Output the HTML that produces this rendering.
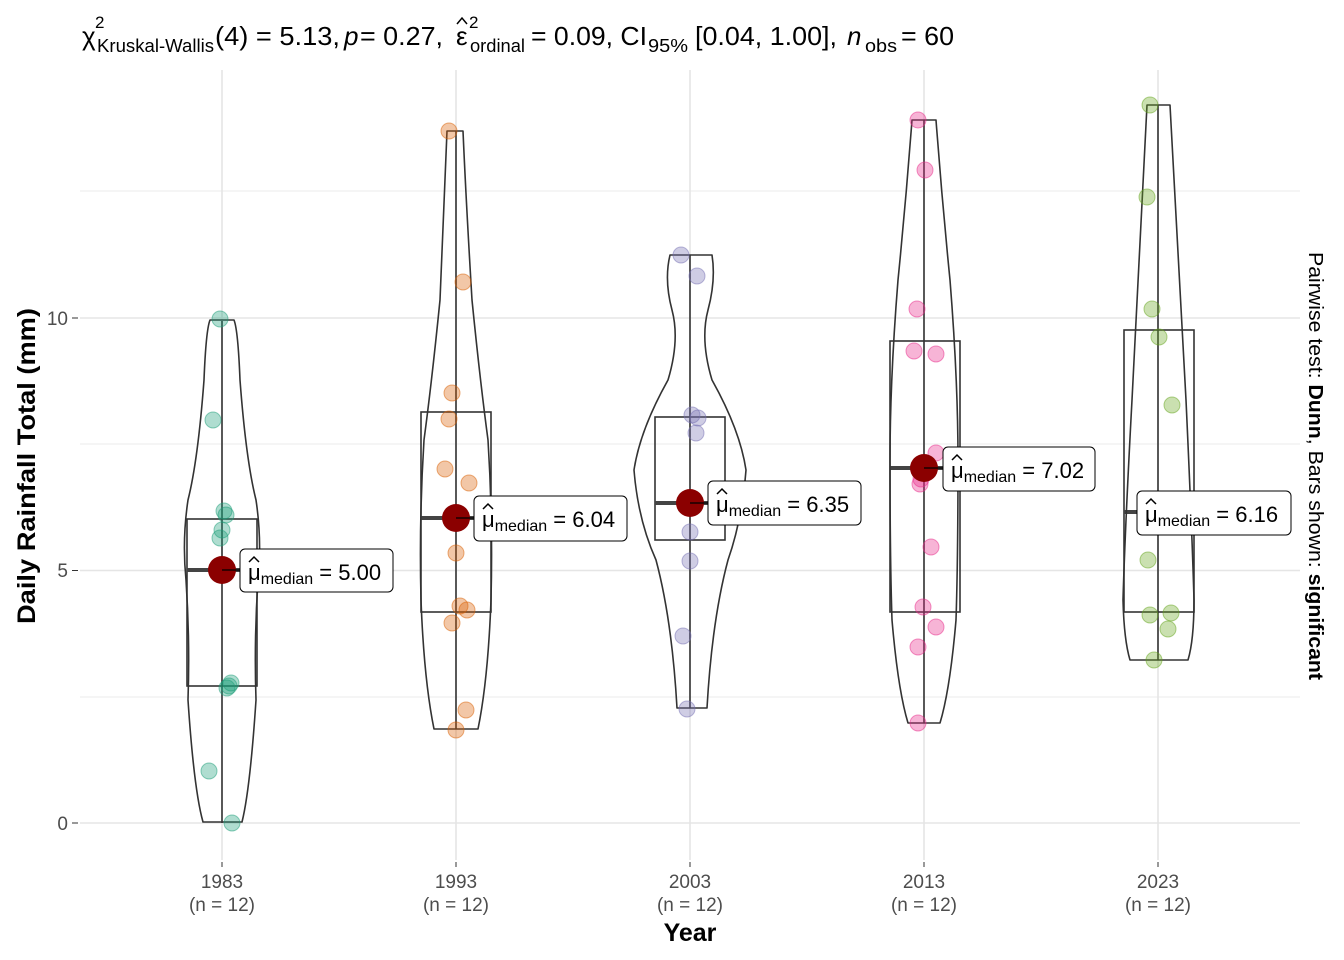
<!DOCTYPE html>
<html><head><meta charset="utf-8"><style>body{margin:0;background:#fff}svg{display:block}</style></head><body>
<svg width="1344" height="960" xmlns="http://www.w3.org/2000/svg" font-family="Liberation Sans, Arial, sans-serif">
<rect width="1344" height="960" fill="#fff"/>
<g stroke="#ebebeb" stroke-width="1">
<line x1="80" x2="1300" y1="697" y2="697"/><line x1="80" x2="1300" y1="444" y2="444"/><line x1="80" x2="1300" y1="191" y2="191"/>
</g>
<g stroke="#e5e5e5" stroke-width="1.6">
<line x1="80" x2="1300" y1="823" y2="823"/><line x1="80" x2="1300" y1="570.5" y2="570.5"/><line x1="80" x2="1300" y1="318" y2="318"/>
<line x1="222" x2="222" y1="70" y2="860"/><line x1="456" x2="456" y1="70" y2="860"/><line x1="690" x2="690" y1="70" y2="860"/><line x1="924" x2="924" y1="70" y2="860"/><line x1="1158" x2="1158" y1="70" y2="860"/>
</g>
<g font-size="19" fill="#4d4d4d" text-anchor="end">
<text x="68" y="830">0</text><text x="68" y="577">5</text><text x="68" y="325">10</text>
</g>
<g stroke="#333" stroke-width="1"><line x1="72" x2="78" y1="823" y2="823"/><line x1="72" x2="78" y1="570.5" y2="570.5"/><line x1="72" x2="78" y1="318" y2="318"/></g>
<g fill="none" stroke="#333" stroke-width="1.6">
<line x1="222" x2="222" y1="321" y2="823"/><rect x="187" y="519" width="70" height="167"/>
<line x1="456" x2="456" y1="131" y2="729"/><rect x="421" y="412" width="70" height="200"/>
<line x1="690" x2="690" y1="255" y2="708"/><rect x="655" y="417" width="70" height="123"/>
<line x1="924" x2="924" y1="120" y2="723"/><rect x="890" y="341" width="70" height="271"/>
<line x1="1158" x2="1158" y1="105" y2="660"/><rect x="1124" y="330" width="70" height="282"/>
</g>
<g stroke="#444" stroke-width="4">
<line x1="187" x2="257" y1="570" y2="570"/><line x1="421" x2="491" y1="518" y2="518"/><line x1="655" x2="725" y1="503" y2="503"/><line x1="890" x2="960" y1="468" y2="468"/><line x1="1124" x2="1194" y1="512" y2="512"/>
</g>
<g fill="none" stroke="#333" stroke-width="1.6" stroke-linejoin="round">
<path d="M210,320 L234,320 Q238,330 240,380 Q246,460 256,500 Q262,540 258,580 Q254,640 256,700 Q250,790 242,822 L203,822 Q194,790 188,700 Q190,640 186,580 Q182,540 188,500 Q198,460 204,380 Q206,330 210,320 Z"/>
<path d="M447,131 L463,131 Q466,200 472,300 Q480,380 488,440 Q493,520 491,600 Q488,680 478,729 L434,729 Q424,680 421,600 Q419,520 424,440 Q432,380 440,300 Q444,200 447,131 Z"/>
<path d="M670,255 L712,255 Q716,280 708,310 Q700,340 712,380 Q740,430 746,470 Q742,520 728,560 Q712,620 707,708 L677,708 Q672,620 656,560 Q638,520 634,470 Q640,430 668,380 Q680,340 672,310 Q664,280 670,255 Z"/>
<path d="M912,120 L936,120 Q942,200 950,280 Q958,380 958,460 Q958,560 956,620 Q950,690 940,723 L908,723 Q898,690 892,620 Q890,560 890,460 Q890,380 898,280 Q906,200 912,120 Z"/>
<path d="M1147,105 L1170,105 Q1178,250 1186,400 Q1192,530 1194,600 Q1194,640 1188,660 L1130,660 Q1124,640 1123,600 Q1125,530 1132,400 Q1140,250 1147,105 Z"/>
</g>
<g fill-opacity="0.35" stroke-opacity="0.5" stroke-width="1">
<g fill="#1b9e77" stroke="#1b9e77">
<circle cx="220" cy="319" r="8"/><circle cx="213" cy="420" r="8"/><circle cx="224" cy="511" r="8"/><circle cx="226" cy="515" r="8"/><circle cx="222" cy="530" r="8"/><circle cx="220" cy="538" r="8"/><circle cx="231" cy="683" r="8"/><circle cx="229" cy="686" r="8"/><circle cx="227" cy="688" r="8"/><circle cx="209" cy="771" r="8"/><circle cx="232" cy="823" r="8"/>
</g>
<g fill="#d95f02" stroke="#d95f02">
<circle cx="449" cy="131" r="8"/><circle cx="463" cy="282" r="8"/><circle cx="452" cy="393" r="8"/><circle cx="449" cy="419" r="8"/><circle cx="445" cy="469" r="8"/><circle cx="469" cy="483" r="8"/><circle cx="456" cy="553" r="8"/><circle cx="460" cy="606" r="8"/><circle cx="467" cy="610" r="8"/><circle cx="452" cy="623" r="8"/><circle cx="466" cy="710" r="8"/><circle cx="456" cy="730" r="8"/>
</g>
<g fill="#7570b3" stroke="#7570b3">
<circle cx="681" cy="255" r="8"/><circle cx="697" cy="276" r="8"/><circle cx="692" cy="415" r="8"/><circle cx="698" cy="418" r="8"/><circle cx="696" cy="433" r="8"/><circle cx="690" cy="532" r="8"/><circle cx="690" cy="561" r="8"/><circle cx="683" cy="636" r="8"/><circle cx="687" cy="709" r="8"/>
</g>
<g fill="#e7298a" stroke="#e7298a">
<circle cx="918" cy="120" r="8"/><circle cx="925" cy="170" r="8"/><circle cx="917" cy="309" r="8"/><circle cx="914" cy="351" r="8"/><circle cx="936" cy="354" r="8"/><circle cx="936" cy="453" r="8"/><circle cx="921" cy="479" r="8"/><circle cx="920" cy="484" r="8"/><circle cx="931" cy="547" r="8"/><circle cx="923" cy="607" r="8"/><circle cx="936" cy="627" r="8"/><circle cx="918" cy="647" r="8"/><circle cx="918" cy="723" r="8"/>
</g>
<g fill="#66a61e" stroke="#66a61e">
<circle cx="1150" cy="105" r="8"/><circle cx="1147" cy="197" r="8"/><circle cx="1152" cy="309" r="8"/><circle cx="1159" cy="337" r="8"/><circle cx="1172" cy="405" r="8"/><circle cx="1148" cy="560" r="8"/><circle cx="1150" cy="615" r="8"/><circle cx="1171" cy="613" r="8"/><circle cx="1168" cy="629" r="8"/><circle cx="1154" cy="660" r="8"/>
</g>
</g>
<g fill="#8b0000">
<circle cx="222" cy="570" r="14"/><circle cx="456" cy="518" r="14"/><circle cx="690" cy="503" r="14"/><circle cx="924" cy="468" r="14"/>
</g>
<g stroke="#000" stroke-width="1.2"><line x1="222" x2="240" y1="570" y2="570"/><line x1="456" x2="474" y1="518" y2="518"/><line x1="690" x2="708" y1="503" y2="503"/><line x1="924" x2="943" y1="468" y2="468"/></g>
<g font-size="22" fill="#000">
<g transform="translate(240,549)"><rect width="153" height="43" rx="5" fill="#fff" stroke="#000" stroke-width="1"/><text x="8" y="31">μ<tspan font-size="16" dy="4">median</tspan><tspan dy="-4"> = 5.00</tspan></text><path d="M9,13 L14,8 L19,13" fill="none" stroke="#000" stroke-width="1.5"/></g>
<g transform="translate(474,496)"><rect width="153" height="45" rx="5" fill="#fff" stroke="#000" stroke-width="1"/><text x="8" y="31">μ<tspan font-size="16" dy="4">median</tspan><tspan dy="-4"> = 6.04</tspan></text><path d="M9,13 L14,8 L19,13" fill="none" stroke="#000" stroke-width="1.5"/></g>
<g transform="translate(708,481)"><rect width="153" height="44" rx="5" fill="#fff" stroke="#000" stroke-width="1"/><text x="8" y="31">μ<tspan font-size="16" dy="4">median</tspan><tspan dy="-4"> = 6.35</tspan></text><path d="M9,13 L14,8 L19,13" fill="none" stroke="#000" stroke-width="1.5"/></g>
<g transform="translate(943,447)"><rect width="152" height="44" rx="5" fill="#fff" stroke="#000" stroke-width="1"/><text x="8" y="31">μ<tspan font-size="16" dy="4">median</tspan><tspan dy="-4"> = 7.02</tspan></text><path d="M9,13 L14,8 L19,13" fill="none" stroke="#000" stroke-width="1.5"/></g>
<g transform="translate(1137,491)"><rect width="154" height="44" rx="5" fill="#fff" stroke="#000" stroke-width="1"/><text x="8" y="31">μ<tspan font-size="16" dy="4">median</tspan><tspan dy="-4"> = 6.16</tspan></text><path d="M9,13 L14,8 L19,13" fill="none" stroke="#000" stroke-width="1.5"/></g>
</g>
<g stroke="#333"><line x1="222" x2="222" y1="862" y2="867"/><line x1="456" x2="456" y1="862" y2="867"/><line x1="690" x2="690" y1="862" y2="867"/><line x1="924" x2="924" y1="862" y2="867"/><line x1="1158" x2="1158" y1="862" y2="867"/></g>
<g font-size="19" fill="#4d4d4d" text-anchor="middle">
<text x="222" y="888">1983</text><text x="222" y="911">(n = 12)</text>
<text x="456" y="888">1993</text><text x="456" y="911">(n = 12)</text>
<text x="690" y="888">2003</text><text x="690" y="911">(n = 12)</text>
<text x="924" y="888">2013</text><text x="924" y="911">(n = 12)</text>
<text x="1158" y="888">2023</text><text x="1158" y="911">(n = 12)</text>
</g>
<text x="690" y="941" font-size="25" font-weight="bold" text-anchor="middle">Year</text>
<text transform="translate(35,466) rotate(-90)" font-size="25" font-weight="bold" text-anchor="middle" textLength="316" lengthAdjust="spacingAndGlyphs">Daily Rainfall Total (mm)</text>
<text transform="translate(1309,466) rotate(90)" font-size="20" text-anchor="middle" textLength="428" lengthAdjust="spacingAndGlyphs">Pairwise test: <tspan font-weight="bold">Dunn</tspan>, Bars shown: <tspan font-weight="bold">significant</tspan></text>
<g fill="#000">
<text x="82" y="45" font-size="26">χ</text>
<text x="95" y="28" font-size="17">2</text>
<text x="97" y="52" font-size="18" textLength="117" lengthAdjust="spacingAndGlyphs">Kruskal-Wallis</text>
<text x="215" y="45" font-size="26" textLength="125" lengthAdjust="spacingAndGlyphs">(4) = 5.13,</text>
<text x="344" y="45" font-size="26" font-style="italic">p</text>
<text x="360" y="45" font-size="26" textLength="83" lengthAdjust="spacingAndGlyphs">= 0.27,</text>
<text x="456" y="45" font-size="26">ε</text>
<path d="M457,24 L462,18 L467,24" fill="none" stroke="#000" stroke-width="1.5"/>
<text x="469" y="28" font-size="17">2</text>
<text x="470" y="52" font-size="18" textLength="55" lengthAdjust="spacingAndGlyphs">ordinal</text>
<text x="531" y="45" font-size="26" textLength="116" lengthAdjust="spacingAndGlyphs">= 0.09, CI</text>
<text x="648" y="52" font-size="18" textLength="40" lengthAdjust="spacingAndGlyphs">95%</text>
<text x="695" y="45" font-size="26" textLength="142" lengthAdjust="spacingAndGlyphs">[0.04, 1.00],</text>
<text x="847" y="45" font-size="26" font-style="italic">n</text>
<text x="865" y="52" font-size="18" textLength="32" lengthAdjust="spacingAndGlyphs">obs</text>
<text x="901" y="45" font-size="26" textLength="53" lengthAdjust="spacingAndGlyphs">= 60</text>
</g>
</svg>
</body></html>
